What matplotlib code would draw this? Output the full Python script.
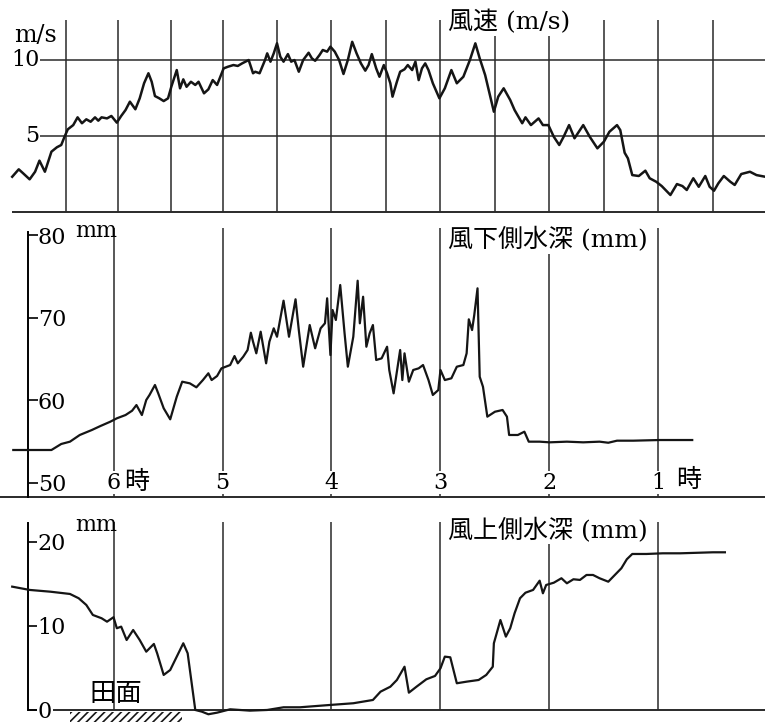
import numpy as np
import matplotlib.pyplot as plt
from matplotlib.patches import Rectangle

plt.rcParams["font.family"] = ["DejaVu Serif", "Noto Sans CJK JP"]
plt.rcParams["hatch.linewidth"] = 1.2

# time axis in hours (chart runs from 7 o'clock at the left down to 0 at the right)
hours = [6, 5, 4, 3, 2, 1]
hour_labels = ["6", "5", "4", "3", "2", "1"]
wind_grid_t = [6.44, 5.96, 5.47, 5.0, 4.5, 4.0, 3.5, 3.0, 2.5, 2.0, 1.5, 1.0, 0.5]

# wind speed (m/s)
wind_t = [6.93, 6.87, 6.83, 6.77, 6.72, 6.68, 6.63, 6.57, 6.52, 6.48, 6.45, 6.42, 6.37, 6.33, 6.29,
          6.25, 6.21, 6.17, 6.14, 6.11, 6.06, 6.02, 5.97, 5.93, 5.89, 5.85, 5.80, 5.76, 5.72, 5.68,
          5.65, 5.62, 5.58, 5.54, 5.50, 5.47, 5.42, 5.39, 5.36, 5.33, 5.29, 5.25, 5.22, 5.17, 5.13,
          5.09, 5.05, 5.02, 4.99, 4.95, 4.90, 4.86, 4.82, 4.76, 4.72, 4.70, 4.66, 4.61, 4.59, 4.56,
          4.53, 4.50, 4.47, 4.44, 4.40, 4.37, 4.34, 4.30, 4.26, 4.21, 4.18, 4.15, 4.11, 4.08, 4.04,
          4.01, 3.97, 3.93, 3.89, 3.85, 3.81, 3.77, 3.73, 3.69, 3.66, 3.63, 3.59, 3.56, 3.52, 3.49,
          3.46, 3.44, 3.40, 3.37, 3.33, 3.30, 3.26, 3.23, 3.20, 3.17, 3.14, 3.11, 3.07, 3.01, 2.96,
          2.90, 2.85, 2.79, 2.73, 2.68, 2.64, 2.59, 2.51, 2.47, 2.42, 2.36, 2.32, 2.25, 2.22, 2.17,
          2.10, 2.06, 2.01, 1.96, 1.91, 1.87, 1.82, 1.77, 1.69, 1.63, 1.56, 1.50, 1.45, 1.38, 1.35,
          1.31, 1.28, 1.24, 1.18, 1.12, 1.08, 1.02, 0.97, 0.89, 0.83, 0.78, 0.74, 0.68, 0.63, 0.57,
          0.53, 0.49, 0.45, 0.40, 0.34, 0.30, 0.24, 0.16, 0.10, 0.02]
wind_v = [2.32, 2.81, 2.55, 2.15, 2.65, 3.38, 2.65, 3.97, 4.26, 4.41, 4.95, 5.44, 5.72, 6.23, 5.84,
          6.10, 5.94, 6.23, 6.01, 6.23, 6.16, 6.32, 5.88, 6.32, 6.71, 7.26, 6.76, 7.48, 8.47, 9.13,
          8.57, 7.63, 7.48, 7.30, 7.48, 8.24, 9.34, 8.14, 8.73, 8.24, 8.57, 8.36, 8.57, 7.81, 8.07,
          8.68, 8.36, 8.90, 9.45, 9.56, 9.67, 9.61, 9.78, 10.0, 9.13, 9.23, 9.13, 10.0, 10.44, 9.89,
          10.44, 11.1, 10.22, 9.89, 10.39, 9.89, 10.0, 9.23, 10.0, 10.48, 10.11, 9.95, 10.33, 10.66, 10.55,
          10.88, 10.55, 10.0, 9.08, 10.0, 11.2, 10.44, 9.78, 9.30, 9.67, 10.39, 9.45, 8.90, 9.67, 9.13,
          8.47, 7.59, 8.57, 9.23, 9.39, 9.67, 9.34, 9.89, 8.68, 9.45, 9.78, 9.34, 8.47, 7.48, 8.14,
          9.34, 8.47, 8.90, 10.0, 11.1, 10.11, 9.01, 6.60, 7.59, 8.14, 7.37, 6.71, 5.84, 6.23, 5.72,
          6.16, 5.72, 5.72, 4.95, 4.41, 4.95, 5.72, 4.85, 5.72, 4.95, 4.19, 4.63, 5.28, 5.72, 5.39,
          3.90, 3.53, 2.43, 2.37, 2.72, 2.22, 1.99, 1.71, 1.12, 1.84, 1.71, 1.45, 2.22, 1.66, 2.37,
          1.66, 1.40, 1.89, 2.37, 1.99, 1.78, 2.50, 2.65, 2.43, 2.32]

# leeward water depth (mm)
lee_t = [6.92, 6.57, 6.48, 6.40, 6.31, 6.20, 6.12, 6.03, 5.97, 5.89, 5.83, 5.79, 5.74, 5.70, 5.67,
         5.62, 5.59, 5.54, 5.48, 5.42, 5.37, 5.30, 5.24, 5.18, 5.13, 5.10, 5.05, 5.01, 4.93, 4.89,
         4.86, 4.81, 4.77, 4.74, 4.72, 4.69, 4.65, 4.60, 4.57, 4.53, 4.50, 4.44, 4.39, 4.33, 4.30,
         4.26, 4.20, 4.15, 4.10, 4.06, 4.04, 4.01, 3.99, 3.96, 3.92, 3.88, 3.85, 3.80, 3.76, 3.74,
         3.71, 3.68, 3.65, 3.62, 3.59, 3.54, 3.49, 3.47, 3.43, 3.37, 3.35, 3.33, 3.29, 3.25, 3.20,
         3.16, 3.11, 3.07, 3.02, 3.00, 2.96, 2.90, 2.85, 2.79, 2.76, 2.74, 2.71, 2.69, 2.66, 2.64,
         2.61, 2.57, 2.50, 2.43, 2.39, 2.37, 2.29, 2.23, 2.19, 2.09, 2.00, 1.84, 1.69, 1.54, 1.46,
         1.38, 1.23, 0.99, 0.69]
lee_v = [53.94, 53.94, 54.67, 54.95, 55.76, 56.36, 56.85, 57.37, 57.78, 58.18, 58.70, 59.39, 58.18, 60.0, 60.61,
         61.82, 60.81, 59.0, 57.66, 60.4, 62.22, 62.02, 61.54, 62.42, 63.24, 62.42, 62.91, 63.84, 64.24, 65.33,
         64.45, 65.25, 66.06, 68.16, 67.07, 65.66, 68.28, 64.45, 67.07, 68.69, 67.67, 72.04, 67.67, 72.21, 68.48,
         64.04, 69.09, 66.27, 68.69, 69.30, 72.33, 65.45, 70.91, 69.70, 73.94, 68.08, 64.04, 67.67, 74.46, 69.30,
         72.52, 66.46, 68.08, 69.09, 64.85, 65.05, 66.46, 63.64, 60.81, 66.06, 62.42, 65.66, 62.22, 63.64, 63.84,
         64.24, 62.42, 60.61, 61.21, 63.64, 62.42, 62.63, 64.04, 64.24, 65.66, 69.78, 68.48, 70.30, 73.54, 62.82,
         61.61, 57.98, 58.58, 58.79, 57.98, 55.76, 55.76, 56.16, 54.95, 54.95, 54.87, 54.95, 54.87, 54.95, 54.82,
         55.07, 55.07, 55.15, 55.15]

# windward water depth (mm)
wwd_t = [6.93, 6.77, 6.58, 6.40, 6.32, 6.25, 6.19, 6.11, 6.06, 6.00, 5.97, 5.93, 5.88, 5.82, 5.76,
         5.70, 5.63, 5.60, 5.54, 5.48, 5.42, 5.36, 5.32, 5.25, 5.19, 5.13, 5.05, 4.93, 4.75, 4.59,
         4.44, 4.29, 4.01, 3.80, 3.62, 3.55, 3.46, 3.40, 3.33, 3.29, 3.22, 3.13, 3.05, 3.00, 2.96,
         2.91, 2.85, 2.76, 2.65, 2.58, 2.52, 2.51, 2.48, 2.45, 2.40, 2.36, 2.32, 2.27, 2.22, 2.15,
         2.09, 2.06, 2.03, 1.96, 1.89, 1.84, 1.78, 1.72, 1.66, 1.60, 1.54, 1.46, 1.40, 1.34, 1.29,
         1.24, 1.11, 0.96, 0.80, 0.50, 0.39]
wwd_v = [14.68, 14.29, 14.08, 13.81, 13.30, 12.5, 11.31, 10.92, 10.51, 11.04, 9.73, 9.92, 8.33, 9.52, 8.33,
         6.94, 7.86, 6.75, 4.17, 4.76, 6.35, 7.94, 6.75, 0.0, -0.2, -0.51, -0.32, 0.08, -0.08, 0.0,
         0.32, 0.32, 0.6, 0.8, 1.19, 2.18, 2.77, 3.57, 5.15, 2.06, 2.77, 3.65, 4.05, 4.96, 6.35,
         6.27, 3.18, 3.37, 3.57, 4.17, 5.15, 7.94, 9.32, 10.71, 8.73, 9.73, 11.51, 13.30, 13.96, 14.29,
         15.39, 13.89, 14.88, 15.15, 15.68, 15.08, 15.56, 15.48, 16.07, 16.07, 15.68, 15.27, 16.07, 16.87, 17.94,
         18.57, 18.57, 18.65, 18.65, 18.77, 18.77]

W, H = 765, 724
fig = plt.figure(figsize=(W / 100, H / 100), dpi=100)


def panel(top_px, bot_px, ylim):
    ax = fig.add_axes([0, 1 - bot_px / H, 1, (bot_px - top_px) / H])
    ax.set_xlim(7.042, 0.022)
    ax.set_ylim(*ylim)
    for s in ax.spines.values():
        s.set_visible(False)
    ax.set_xticks([])
    ax.set_yticks([])
    ax.patch.set_alpha(0)
    return ax


ink = "#151515"
grid_kw = dict(color="#2a2a2a", lw=1.1, zorder=1)
title_kw = dict(fontsize=18, ha="left", va="center", zorder=5,
                bbox=dict(facecolor="white", edgecolor="none", pad=1))
num_size = 16

# ---- wind speed ----
ax1 = panel(12, 214, (-0.13, 13.16))
ax1.vlines(wind_grid_t, 0, 12.63, **grid_kw)
ax1.hlines([5, 10], 6.675, 0.022, **grid_kw)
ax1.hlines(0, 6.93, 0.022, color="#2a2a2a", lw=1.4, zorder=1)
ax1.plot(wind_t, wind_v, color=ink, lw=1.8, zorder=3)
ax1.text(6.68, 10, "10", fontsize=num_size, ha="right", va="center")
ax1.text(6.68, 5, "5", fontsize=num_size, ha="right", va="center")
ax1.text(6.91, 11.6, "m/s", fontsize=17, ha="left", va="center")
ax1.text(2.93, 12.5, "風速 (m/s)", **title_kw)

# ---- leeward depth ----
ax2 = panel(222, 499, (48.0, 81.58))
ax2.vlines(hours, 48.24, 80.85, **grid_kw)
ax2.hlines(48.24, 7.042, 0.022, color="#2a2a2a", lw=1.4, zorder=1)
ax2.spines["right"].set_visible(True)
ax2.spines["right"].set_position(("data", 6.785))
ax2.spines["right"].set_bounds(48.24, 80.4)
ax2.spines["right"].set_linewidth(1.4)
ax2.yaxis.tick_right()
ax2.set_yticks([50, 60, 70, 80])
ax2.tick_params(axis="y", direction="out", length=7, width=1.2, pad=0, labelsize=num_size)
ax2.plot(lee_t, lee_v, color=ink, lw=1.6, zorder=3)
ax2.text(6.35, 80.5, "mm", fontsize=16, ha="left", va="center")
for h, lab in zip(hours, hour_labels):
    ax2.text(h, 50.0, lab, fontsize=num_size, ha="center", va="center", zorder=4,
             bbox=dict(facecolor="white", edgecolor="none", pad=0.5))
ax2.text(5.90, 50.0, "時", fontsize=18, ha="left", va="center", zorder=4)
ax2.text(0.84, 50.3, "時", fontsize=18, ha="left", va="center", zorder=4)
ax2.text(2.93, 79.4, "風下側水深 (mm)", **title_kw)

# ---- windward depth ----
ax3 = panel(505, 724, (-1.67, 24.4))
ax3.vlines(hours, 0, 22.4, **grid_kw)
ax3.hlines(0, 6.785, 0.022, color="#2a2a2a", lw=1.4, zorder=1)
ax3.spines["right"].set_visible(True)
ax3.spines["right"].set_position(("data", 6.785))
ax3.spines["right"].set_bounds(0, 22.3)
ax3.spines["right"].set_linewidth(1.4)
ax3.yaxis.tick_right()
ax3.set_yticks([0, 10, 20])
ax3.tick_params(axis="y", direction="out", length=7, width=1.2, pad=0, labelsize=num_size)
for lab in ax3.get_yticklabels():
    lab.set_bbox(dict(facecolor="white", edgecolor="none", pad=0.5))
ax3.add_patch(Rectangle((6.40, -1.4), -1.03, 1.15, facecolor="none", edgecolor=ink,
                        linewidth=0, hatch="////", zorder=2))
ax3.plot(wwd_t, wwd_v, color=ink, lw=1.6, zorder=3)
ax3.text(6.35, 22.0, "mm", fontsize=16, ha="left", va="center")
ax3.text(6.22, 2.0, "田面", fontsize=19, ha="left", va="center")
ax3.text(2.93, 21.4, "風上側水深 (mm)", **title_kw)

fig.savefig("out.png", dpi=100)
